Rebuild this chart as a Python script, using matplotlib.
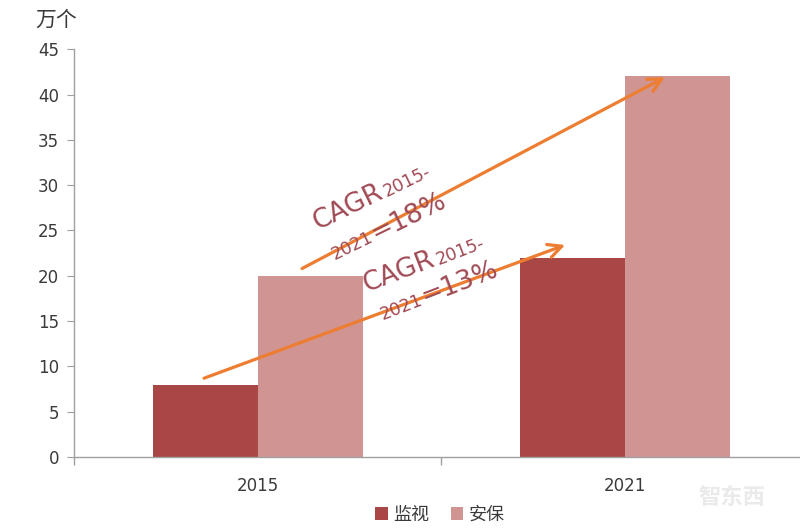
import numpy as np
import matplotlib
matplotlib.use("Agg")
import matplotlib.pyplot as plt
from matplotlib.textpath import TextPath
from matplotlib.font_manager import FontProperties

plt.rcParams['font.family'] = ['DejaVu Sans', 'Noto Sans CJK SC']

categories = ['2015', '2021']
series_names = ['监视', '安保']
jianshi = [8, 22]
anbao = [20, 42]
colors = ['#A84745', '#D09593']
yticks = [0, 5, 10, 15, 20, 25, 30, 35, 40, 45]
unit = '万个'
cagr_lines = [
    [[('CAGR', 19), ('2015-', 12.5)], [('2021', 12.5), ('=18%', 19)]],
    [[('CAGR', 19), ('2015-', 12.5)], [('2021', 12.5), ('=13%', 19)]],
]

fig = plt.figure(figsize=(8, 5.29), dpi=100)
ax = fig.add_axes([0.0931, 0.136, 0.9175, 0.771])

x = np.arange(len(categories))
w = 0.286
ax.bar(x - w / 2, jianshi, w, color=colors[0], label=series_names[0])
ax.bar(x + w / 2, anbao, w, color=colors[1], label=series_names[1])

ax.set_xlim(-0.5, 1.5)
ax.set_ylim(0, 45)
ax.set_yticks(yticks)
ax.set_xticks(x)
ax.set_xticklabels(categories)
ax.set_xticks([-0.5, 0.5, 1.5], minor=True)
ax.tick_params(axis='x', which='major', length=0, pad=14, labelsize=12, labelcolor='#3a3a3a')
ax.tick_params(axis='x', which='minor', length=6, color='#A0A0A0', width=1)
ax.tick_params(axis='y', length=5, color='#A0A0A0', labelsize=12, labelcolor='#3a3a3a', pad=6)
for s in ['top', 'right']:
    ax.spines[s].set_visible(False)
for s in ['left', 'bottom']:
    ax.spines[s].set_color('#A0A0A0')
    ax.spines[s].set_linewidth(1)

fig.text(0.044, 0.962, unit, fontsize=15, color='#3a3a3a', ha='left', va='center')

# arrows
arrow_kw = dict(arrowstyle='->,head_length=0.7,head_width=0.35', color='#ED7D31', lw=2.3,
                mutation_scale=14, shrinkA=0, shrinkB=0)
ax.annotate('', xy=(0.837, 23.4), xytext=(-0.147, 8.7), arrowprops=arrow_kw)
ax.annotate('', xy=(1.109, 41.9), xytext=(0.12, 20.8), arrowprops=arrow_kw)

# rich rotated CAGR text
tcolor = '#A04A55'


def rich_line(xy, pieces, angle):
    off = 0.0
    a = np.deg2rad(angle)
    for txt, fs in pieces:
        ax.annotate(txt, xy=xy, xycoords='data',
                    xytext=(off * np.cos(a), off * np.sin(a)), textcoords='offset points',
                    rotation=angle, rotation_mode='anchor', ha='left', va='baseline',
                    fontsize=fs, color=tcolor)
        tp = TextPath((0, 0), txt, size=fs, prop=FontProperties(family='DejaVu Sans'))
        off += tp.get_extents().x1 + fs * 0.1


rich_line((0.163, 25.0), cagr_lines[0][0], 26)
rich_line((0.21, 21.7), cagr_lines[0][1], 26)
rich_line((0.297, 18.2), cagr_lines[1][0], 21)
rich_line((0.341, 15.1), cagr_lines[1][1], 21)

leg = fig.legend(loc='center', bbox_to_anchor=(0.55, 0.027), ncol=2, frameon=False,
                 fontsize=13, handlelength=0.7, handleheight=0.7, handletextpad=0.3,
                 columnspacing=1.2)
for t in leg.get_texts():
    t.set_color('#3a3a3a')

fig.text(0.915, 0.06, '智东西', fontsize=16, color='#EAEAEA', ha='center', va='center',
         fontweight='bold')

fig.savefig('out.png', dpi=100)
